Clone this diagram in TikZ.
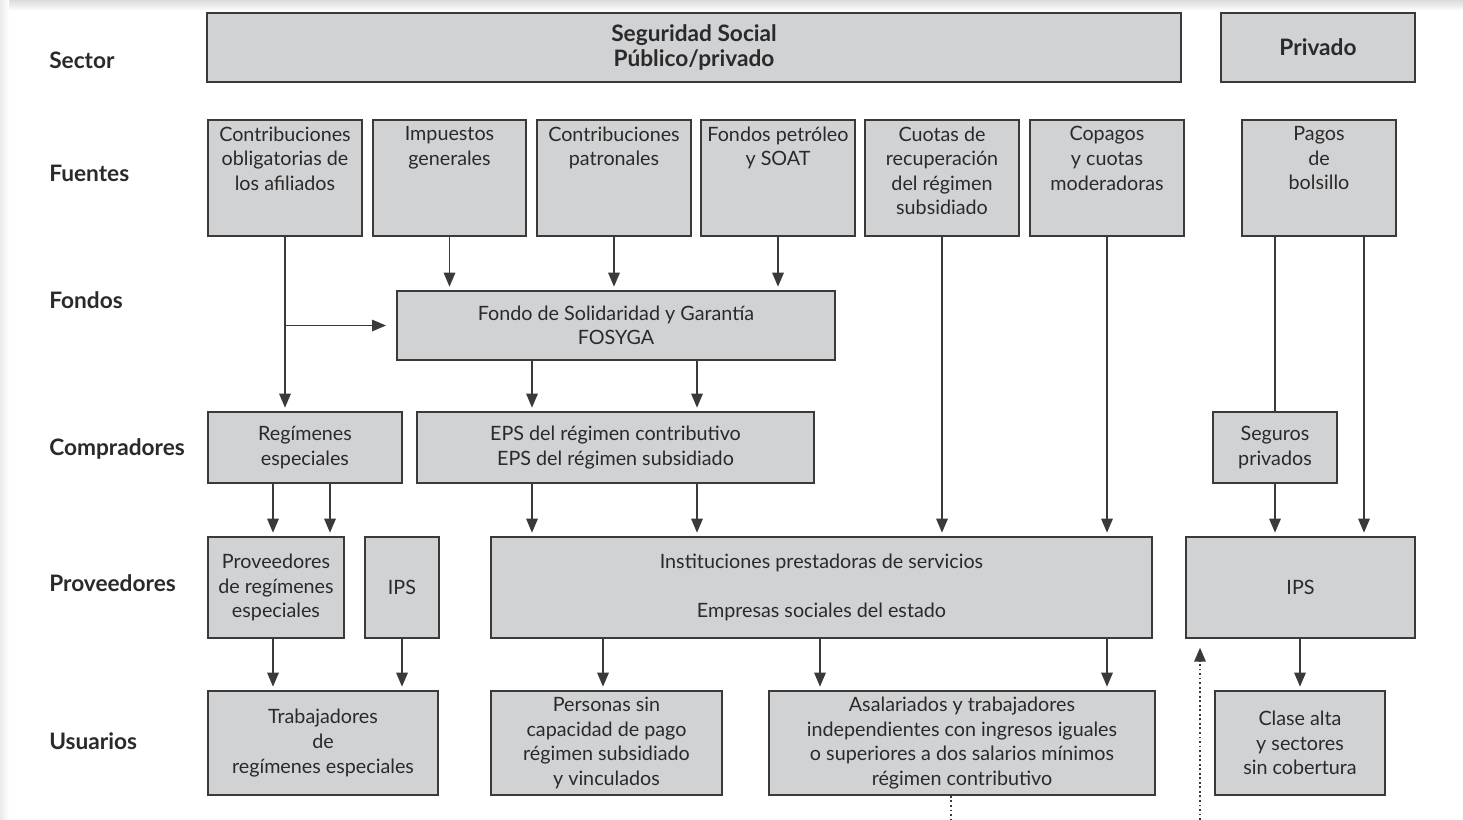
\documentclass[tikz,border=0pt]{standalone}
\usepackage{fontspec}
\setmainfont{Lato}
\usetikzlibrary{arrows.meta}
\definecolor{boxfill}{HTML}{D1D2D4}
\definecolor{ink}{HTML}{3A3A3A}
\definecolor{txt}{HTML}{2A2A2A}

% box with corners (x1,y1)-(x2,y2) in pixel-like units
\newcommand\pbox[6]{%
  \node[box, minimum width={(#4-#2)*0.75pt}, minimum height={(#5-#3)*0.75pt}]
    (#1) at ({(#2+#4)/2},{(#3+#5)/2}) {#6};}

\begin{document}
\begin{tikzpicture}[x=0.75pt,y=-0.75pt,
  box/.style={draw=ink, fill=boxfill, line width=1.4pt, inner sep=0pt,
    align=center, text=txt, font=\fontsize{14.8}{18.4}\selectfont},
  toptext/.style={anchor=north, inner sep=0pt, align=center, text=txt,
    font=\fontsize{14.8}{18.4}\selectfont},
  rowlabel/.style={anchor=west, inner sep=0pt, text=txt,
    font=\bfseries\fontsize{17}{19}\selectfont},
  arr/.style={draw=ink, line width=1.4pt, -{Triangle[length=10.5pt,width=8.5pt]},
    shorten >=2.5pt},
  link/.style={draw=ink, line width=1.4pt},
  dots/.style={draw=ink, line width=1.4pt, dotted}]

\useasboundingbox (0,0) rectangle (1463,820);
\fill[white] (0,0) rectangle (1463,820);
\shade[top color=black!14, bottom color=white] (0,0) rectangle (1463,11);
\shade[left color=black!8, right color=white] (0,0) rectangle (9,820);

% row labels
\node[rowlabel] (lsec) at (49,60) {Sector};
\node[rowlabel] (lfue) at (49,173) {Fuentes};
\node[rowlabel] (lfon) at (49,300) {Fondos};
\node[rowlabel] (lcom) at (49,449) {Compradores};
\node[rowlabel] (lpro) at (49,583) {Proveedores};
\node[rowlabel] (lusu) at (49,741) {Usuarios};

% sector
\pbox{sec}{207}{13}{1181}{82}{\bfseries\fontsize{17}{18.6}\selectfont Seguridad Social\\\bfseries\fontsize{17}{18.6}\selectfont Público/privado}
\pbox{pri}{1221}{13}{1415}{82}{\bfseries\fontsize{17}{18.6}\selectfont Privado}

% sources
\pbox{cob}{208}{120}{362}{236}{}
\pbox{imp}{373}{120}{526}{236}{}
\pbox{pat}{537}{120}{691}{236}{}
\pbox{pet}{701}{120}{855}{236}{}
\pbox{cuo}{865}{120}{1019}{236}{}
\pbox{cop}{1030}{120}{1184}{236}{}
\pbox{pag}{1242}{120}{1396}{236}{}
\node[toptext] (tcob) at ([yshift=-5.5pt]cob.north) {Contribuciones\\obligatorias de\\los afiliados};
\node[toptext] (timp) at ([yshift=-5.5pt]imp.north) {Impuestos\\generales};
\node[toptext] (tpat) at ([yshift=-5.5pt]pat.north) {Contribuciones\\patronales};
\node[toptext] (tpet) at ([yshift=-5.5pt]pet.north) {Fondos petróleo\\y SOAT};
\node[toptext] (tcuo) at ([yshift=-5.5pt]cuo.north) {Cuotas de\\recuperación\\del régimen\\subsidiado};
\node[toptext] (tcop) at ([yshift=-5.5pt]cop.north) {Copagos\\y cuotas\\moderadoras};
\node[toptext] (tpag) at ([yshift=-5.5pt]pag.north) {Pagos\\de\\bolsillo};

% funds
\pbox{fos}{397}{291}{835}{360}{Fondo de Solidaridad y Garantía\\FOSYGA}

% purchasers
\pbox{reg}{208}{412}{402}{483}{Regímenes\\especiales}
\pbox{eps}{417}{412}{814}{483}{EPS del régimen contributivo\\EPS del régimen subsidiado}
\pbox{seg}{1213}{412}{1337}{483}{Seguros\\privados}

% providers
\pbox{prv}{208}{537}{344}{638}{Proveedores\\de regímenes\\especiales}
\pbox{ipa}{365}{537}{439}{638}{IPS}
\pbox{ins}{491}{537}{1152}{638}{Instituciones prestadoras de servicios\\[18pt]Empresas sociales del estado}
\pbox{ipb}{1186}{537}{1415}{638}{IPS}

% users
\pbox{tra}{208}{691}{438}{795}{Trabajadores\\de\\regímenes especiales}
\pbox{per}{491}{691}{722}{795}{Personas sin\\capacidad de pago\\régimen subsidiado\\y vinculados}
\pbox{asa}{769}{691}{1155}{795}{Asalariados y trabajadores\\independientes con ingresos iguales\\o superiores a dos salarios mínimos\\régimen contributivo}
\pbox{cla}{1215}{691}{1385}{795}{Clase alta\\y sectores\\sin cobertura}

% helper columns for connectors
\coordinate (c273) at (273,0);
\coordinate (c330) at (330,0);
\coordinate (c532) at (532,0);
\coordinate (c603) at (603,0);
\coordinate (c697) at (697,0);
\coordinate (c820) at (820,0);
\coordinate (c1364) at (1364,0);
\coordinate (dotA) at (951,820);
\coordinate (dotB) at (1200,820);

% sources to funds and purchasers
\draw[arr] (cob.south) -- (reg.north -| cob.south);
\draw[arr, shorten >=7.5pt] (cob.south |- fos.west) -- (fos.west);
\draw[arr] (imp.south) -- (fos.north -| imp.south);
\draw[arr] (pat.south) -- (fos.north -| pat.south);
\draw[arr] (pet.south) -- (fos.north -| pet.south);
\draw[arr] (cuo.south) -- (ins.north -| cuo.south);
\draw[arr] (cop.south) -- (ins.north -| cop.south);
\draw[link] (pag.south -| seg.north) -- (seg.north);
\draw[arr] (pag.south -| c1364) -- (ipb.north -| c1364);

% funds to purchasers
\draw[arr] (fos.south -| c532) -- (eps.north -| c532);
\draw[arr] (fos.south -| c697) -- (eps.north -| c697);

% purchasers to providers
\draw[arr] (reg.south -| c273) -- (prv.north -| c273);
\draw[arr] (reg.south -| c330) -- (prv.north -| c330);
\draw[arr] (eps.south -| c532) -- (ins.north -| c532);
\draw[arr] (eps.south -| c697) -- (ins.north -| c697);
\draw[arr] (seg.south) -- (ipb.north -| seg.south);

% providers to users
\draw[arr] (prv.south -| c273) -- (tra.north -| c273);
\draw[arr] (ipa.south) -- (tra.north -| ipa.south);
\draw[arr] (ins.south -| c603) -- (per.north -| c603);
\draw[arr] (ins.south -| c820) -- (asa.north -| c820);
\draw[arr] (ins.south -| cop.south) -- (asa.north -| cop.south);
\draw[arr] (ipb.south -| cla.north) -- (cla.north);

% dotted links
\draw[dots] (asa.south -| dotA) -- (dotA);
\draw[dots, -{Triangle[length=10.5pt,width=8.5pt]}, shorten >=6.5pt] (dotB) -- (ipb.south -| dotB);

\end{tikzpicture}
\end{document}
